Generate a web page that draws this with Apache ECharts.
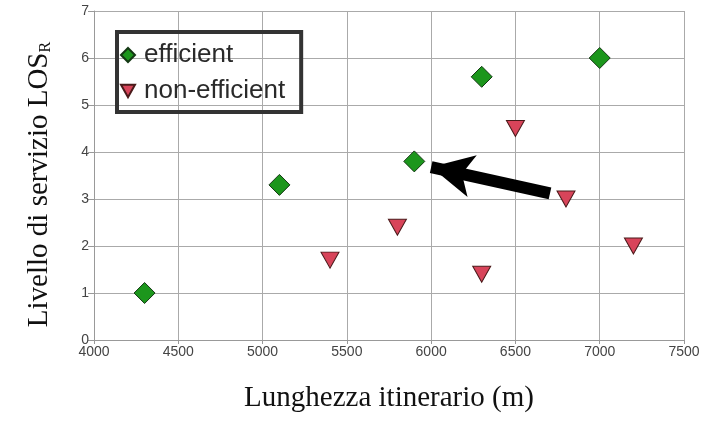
<!DOCTYPE html>
<html>
<head>
<meta charset="utf-8">
<script src="https://cdn.jsdelivr.net/npm/echarts@6/dist/echarts.min.js"></script>
<style>html,body{margin:0;padding:0;background:#fff;}#c{width:708px;height:436px;}</style>
</head>
<body>
<div id="c"></div>
<script>
const efficientX = [4300, 5100, 5900, 6300, 7000];
const efficientY = [1.0, 3.3, 3.8, 5.6, 6.0];
const nonEfficientX = [5400, 5800, 6300, 6500, 6800, 7200];
const nonEfficientY = [1.7, 2.4, 1.4, 4.5, 3.0, 2.0];
const arrowFrom = [6705, 3.12];
const arrowTo = [6000, 3.68];

const downTri = 'path://M0,0 L10,0 L5,9 Z';
const chart = echarts.init(document.getElementById('c'));
chart.setOption({
  animation: false,
  grid: {left: 94, right: 24, top: 11, bottom: 96},
  legend: {
    orient: 'vertical', left: 117, top: 32,
    borderColor: '#333', borderWidth: 4, padding: [10, 16, 8, 3],
    itemGap: 10, itemWidth: 14, itemHeight: 14,
    textStyle: {fontFamily: 'Liberation Sans', fontSize: 26, color: '#2a2a2a', padding: [0, 0, 0, 4]},
    data: [
      {name: 'efficient', icon: 'diamond'},
      {name: 'non-efficient', icon: downTri}
    ]
  },
  xAxis: {
    type: 'value', min: 4000, max: 7500, interval: 500,
    name: 'Lunghezza itinerario (m)', nameLocation: 'middle', nameGap: 44,
    nameTextStyle: {fontFamily: 'Liberation Serif', fontSize: 29, color: '#111'},
    axisLine: {lineStyle: {color: '#999'}},
    axisTick: {show: true, length: 4, lineStyle: {color: '#999'}},
    axisLabel: {fontFamily: 'Liberation Sans', fontSize: 14, color: '#444', margin: 5, formatter: v => String(v)},
    splitLine: {lineStyle: {color: '#aaa'}}
  },
  yAxis: {
    type: 'value', min: 0, max: 7, interval: 1,
    name: '{a|Livello di servizio LOS}{s|R}', nameLocation: 'middle', nameGap: 40,
    nameTextStyle: {
      padding: [0, 18, 0, 0],
      rich: {
        a: {fontFamily: 'Liberation Serif', fontSize: 29, color: '#111'},
        s: {fontFamily: 'Liberation Serif', fontSize: 16, color: '#111', verticalAlign: 'bottom', padding: [12, 0, 0, 0]}
      }
    },
    axisLine: {show: true, lineStyle: {color: '#999'}},
    axisTick: {show: true, length: 6, lineStyle: {color: '#999'}},
    axisLabel: {fontFamily: 'Liberation Sans', fontSize: 14, color: '#444', margin: 5},
    splitLine: {lineStyle: {color: '#aaa'}}
  },
  series: [
    {
      name: 'efficient', type: 'scatter', symbol: 'diamond', symbolSize: 21,
      itemStyle: {color: '#1c961c', borderColor: '#143814', borderWidth: 1, opacity: 1},
      data: efficientX.map((x, i) => [x, efficientY[i]]),
      markLine: {
        silent: true, symbol: ['none', 'arrow'], symbolSize: [32, 42],
        lineStyle: {color: '#000', width: 12, type: 'solid', opacity: 1},
        label: {show: false},
        data: [[{coord: arrowFrom}, {coord: arrowTo}]]
      }
    },
    {
      name: 'non-efficient', type: 'scatter', symbol: 'triangle', symbolRotate: 180, symbolSize: [18, 16],
      itemStyle: {color: '#d8445a', borderColor: '#4a1a1a', borderWidth: 1, opacity: 1},
      data: nonEfficientX.map((x, i) => [x, nonEfficientY[i]])
    }
  ]
});
</script>
</body>
</html>
